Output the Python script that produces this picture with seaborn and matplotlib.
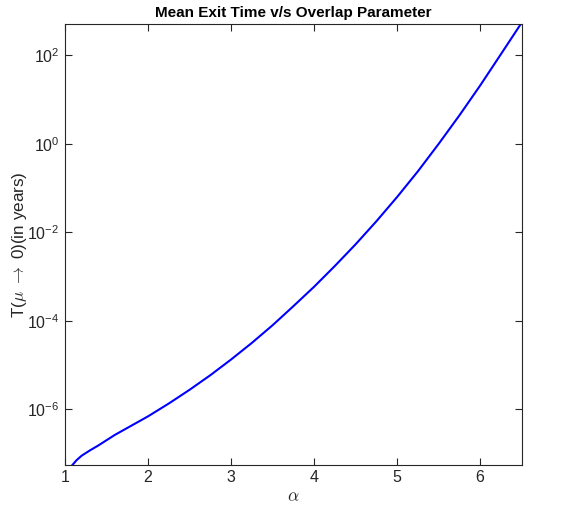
import numpy as np
import pandas as pd
import matplotlib
matplotlib.use("Agg")
import matplotlib.pyplot as plt
import matplotlib.ticker as mticker
import seaborn as sns

# Data (alpha vs log10 of mean exit time)
alpha = [1.08, 1.14, 1.20, 1.30, 1.40, 1.60, 1.80, 2.00, 2.25, 2.50, 2.75,
         3.00, 3.25, 3.50, 3.75, 4.00, 4.25, 4.50, 4.75, 5.00, 5.25, 5.50,
         5.75, 6.00, 6.24, 6.50]
log_T = [-7.28, -7.15, -7.05, -6.93, -6.82, -6.58, -6.37, -6.16, -5.87,
         -5.56, -5.23, -4.875, -4.50, -4.10, -3.67, -3.23, -2.76, -2.27,
         -1.75, -1.20, -0.62, 0.00, 0.645, 1.32, 2.00, 2.74]
x_ticks = [1, 2, 3, 4, 5, 6]
y_ticks = [1e-6, 1e-4, 1e-2, 1e0, 1e2]

df = pd.DataFrame({"alpha": alpha, "T": np.power(10.0, log_T)})

sns.set_theme(style="ticks")
plt.rcParams["font.family"] = ["Liberation Sans", "DejaVu Sans"]
plt.rcParams["mathtext.fontset"] = "cm"
plt.rcParams["axes.unicode_minus"] = False

fig = plt.figure(figsize=(5.61, 5.07), dpi=100)
ax = fig.add_axes([65 / 561, 1 - 465 / 507, (521.7 - 65) / 561, (465 - 24) / 507])

sns.lineplot(data=df, x="alpha", y="T", ax=ax, color="#0000ff", linewidth=1.5)

ax.set_yscale("log")
ax.set_xlim(1, 6.5)
ax.set_ylim(10 ** -7.26, 10 ** 2.71)
ax.set_xticks(x_ticks)
ax.set_xticklabels([str(t) for t in x_ticks])
ax.yaxis.set_major_locator(mticker.FixedLocator(y_ticks))
ax.yaxis.set_minor_locator(mticker.NullLocator())
ax.yaxis.set_major_formatter(mticker.LogFormatterSciNotation())

edge = "#262626"
for sp in ax.spines.values():
    sp.set_visible(True)
    sp.set_color(edge)
    sp.set_linewidth(0.8)
ax.tick_params(axis="both", which="major", direction="in", length=5, width=0.8,
               color=edge, labelcolor=edge, labelsize=11.5,
               top=True, right=True)
ax.tick_params(axis="y", pad=4)

ax.set_xlabel(r"$\alpha$", fontsize=12.5, color=edge, labelpad=3)
ax.set_ylabel(r"T($\mu$ $\rightarrow$ 0)(in years)", fontsize=12.3, color=edge, labelpad=-1.5)
ax.set_title("Mean Exit Time v/s Overlap Parameter", fontsize=11, fontweight="bold",
             color="black", pad=5)

fig.savefig("out.png", dpi=100)
